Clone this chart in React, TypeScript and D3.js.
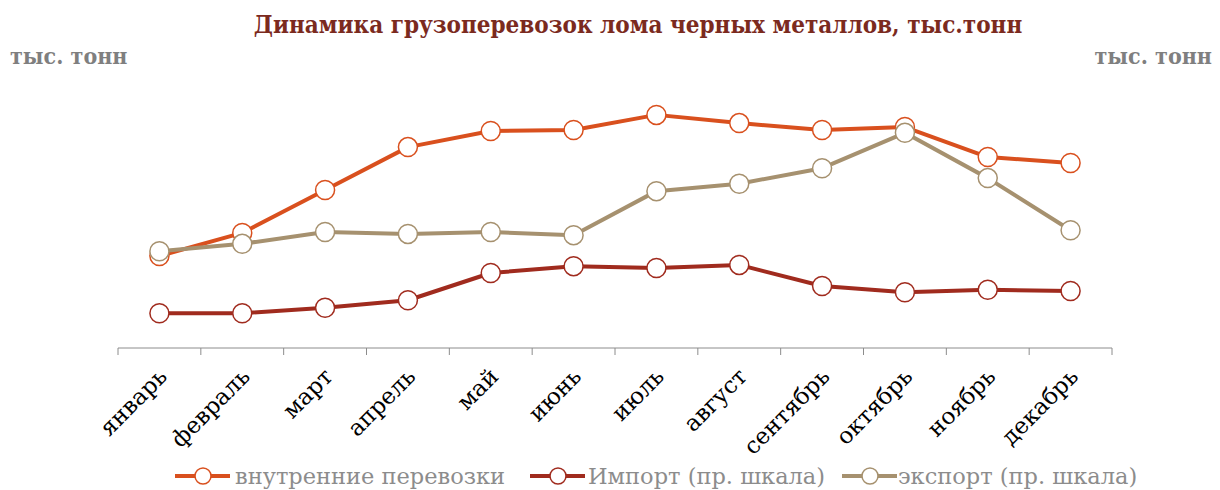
import React from "react";
import * as d3 from "d3";

const months = ["январь", "февраль", "март", "апрель", "май", "июнь", "июль", "август", "сентябрь", "октябрь", "ноябрь", "декабрь"];
// left scale
const domestic = [371, 464, 637, 810, 875, 879, 940, 907, 879, 891, 770, 746];
// right scale
const imports = [56, 56, 65, 77, 121, 132, 129, 134, 100, 90, 94, 92];
const exports = [156, 168, 187, 184, 187, 182, 253, 265, 290, 347, 274, 190];

const seriesNames = ["внутренние перевозки", "Импорт (пр. шкала)", "экспорт (пр. шкала)"];
const colors = ["#D9501E", "#A02B1E", "#A6916F"];

const W = 1220;
const H = 490;
const serif = "'DejaVu Serif', serif";

const App = () => {
  const x = d3.scaleBand<string>().domain(months).range([118, 1112]);
  const yL = d3.scaleLinear().domain([0, 1000]).range([348, 100]);
  const yR = d3.scaleLinear().domain([0, 400]).range([348, 100]);
  const cx = (m: string) => (x(m) ?? 0) + x.bandwidth() / 2;

  const series = [
    { vals: domestic, y: yL, color: colors[0] },
    { vals: imports, y: yR, color: colors[1] },
    { vals: exports, y: yR, color: colors[2] },
  ];

  const ln = (vals: number[], y: d3.ScaleLinear<number, number>) =>
    d3.line<number>().x((_, i) => cx(months[i])).y((v) => y(v))(vals) ?? "";

  const ticks = [...months.map((m) => x(m) ?? 0), 1112];

  // legend layout
  const legendX = [175, 530, 842];
  const legendTextX = [235, 588, 898];

  return (
    <svg width={W} height={H} style={{ position: "absolute", left: 0, top: 0 }}>
      <rect width={W} height={H} fill="#fff" />
      <text x={638} y={33} textAnchor="middle" fontFamily={serif} fontWeight="bold" fontSize={24} fill="#7B2A1E" style={{ fontStretch: "condensed" }}>
        Динамика грузоперевозок лома черных металлов, тыс.тонн
      </text>
      <text x={10} y={64} fontFamily={serif} fontWeight="bold" fontSize={23} fill="#7F7F7F" style={{ fontStretch: "condensed" }}>тыс. тонн</text>
      <text x={1212} y={64} textAnchor="end" fontFamily={serif} fontWeight="bold" fontSize={23} fill="#7F7F7F" style={{ fontStretch: "condensed" }}>тыс. тонн</text>

      <line x1={118} x2={1112} y1={348} y2={348} stroke="#8C8C8C" strokeWidth={1} />
      {ticks.map((t, i) => (
        <line key={i} x1={t} x2={t} y1={348} y2={355} stroke="#8C8C8C" strokeWidth={1} />
      ))}
      {months.map((m) => (
        <text key={m} transform={`translate(${cx(m) + 9},${378}) rotate(-45)`} textAnchor="end" fontFamily={serif} fontSize={23} fill="#000">
          {m}
        </text>
      ))}

      {series.map((s, si) => (
        <g key={si}>
          <path d={ln(s.vals, s.y)} fill="none" stroke={s.color} strokeWidth={4} strokeLinejoin="round" />
          {s.vals.map((v, i) => (
            <circle key={i} cx={cx(months[i])} cy={s.y(v)} r={9.5} fill="#fff" stroke={s.color} strokeWidth={1.5} />
          ))}
        </g>
      ))}

      {seriesNames.map((n, i) => (
        <g key={n}>
          <line x1={legendX[i]} x2={legendX[i] + 55} y1={476} y2={476} stroke={colors[i]} strokeWidth={4} />
          <circle cx={legendX[i] + 28} cy={476} r={8} fill="#fff" stroke={colors[i]} strokeWidth={1.5} />
          <text x={legendTextX[i]} y={484} fontFamily={serif} fontSize={22.5} fill="#8C8C8C">{n}</text>
        </g>
      ))}
    </svg>
  );
};

export default App;
